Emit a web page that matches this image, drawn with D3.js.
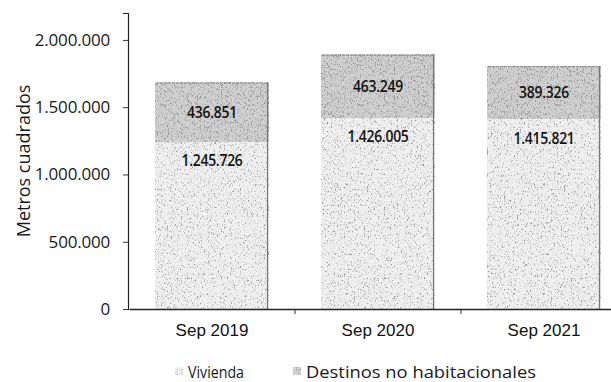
<!DOCTYPE html>
<html>
<head>
<meta charset="utf-8">
<script src="https://cdn.jsdelivr.net/npm/d3@7"></script>
<style>
  html, body { margin: 0; padding: 0; background: #fff; }
  svg { display: block; }
</style>
</head>
<body>
<svg id="chart" width="611" height="382"></svg>
<script>
// Superficie autorizada (m²) por destino, septiembre de cada año
const categories = ["Sep 2019", "Sep 2020", "Sep 2021"];
const vivienda = [1245726, 1426005, 1415821];
const noHabitacional = [436851, 463249, 389326];
const seriesNames = ["Vivienda", "Destinos no habitacionales"];
const yTicks = [0, 500000, 1000000, 1500000, 2000000];

const fmt = d3.formatLocale({ decimal: ",", thousands: ".", grouping: [3], currency: ["", ""] }).format(",d");

const svg = d3.select("#chart");
const defs = svg.append("defs");

// grainy stipple texture for the bars
function grain(id, base, freq, darkness, cut) {
  const f = defs.append("filter").attr("id", id)
    .attr("x", 0).attr("y", 0).attr("width", 1).attr("height", 1);
  f.append("feFlood").attr("flood-color", base).attr("result", "base");
  f.append("feTurbulence").attr("type", "fractalNoise")
    .attr("baseFrequency", freq).attr("numOctaves", 2).attr("seed", 11).attr("result", "noise");
  f.append("feColorMatrix").attr("in", "noise").attr("type", "matrix")
    .attr("values", `0 0 0 0 0.3  0 0 0 0 0.3  0 0 0 0 0.3  ${darkness} 0 0 0 ${-darkness * cut}`)
    .attr("result", "specks");
  f.append("feComposite").attr("in", "specks").attr("in2", "base").attr("operator", "over");
}
grain("g-viv", "#efefef", "1.3 0.45", 4.5, 0.57);
grain("g-noh", "#d0d0d0", "1.3 0.45", 4.5, 0.52);

const fills = ["#e6e6e6", "#c2c2c2"];
const filters = ["url(#g-viv)", "url(#g-noh)"];

const x = d3.scaleBand().domain(categories).range([129, 627]).paddingInner(0.325).paddingOuter(0.1625);
const y = d3.scaleLinear().domain([0, 2200000]).range([309, 13]);

const rows = categories.map((c, i) => ({ cat: c, Vivienda: vivienda[i], "Destinos no habitacionales": noHabitacional[i] }));
const stacked = d3.stack().keys(seriesNames)(rows);

// bars
stacked.forEach((layer, li) => {
  svg.append("g").selectAll("rect").data(layer).join("rect")
    .attr("x", d => x(d.data.cat))
    .attr("y", d => y(d[1]))
    .attr("width", x.bandwidth())
    .attr("height", d => y(d[0]) - y(d[1]))
    .attr("fill", fills[li])
    .attr("filter", filters[li]);
});

// darker right edge and top edge of each bar
svg.append("g").selectAll("line").data(stacked[1]).join("line")
  .attr("x1", d => x(d.data.cat) + x.bandwidth() - 0.5)
  .attr("x2", d => x(d.data.cat) + x.bandwidth() - 0.5)
  .attr("y1", d => y(d[1]))
  .attr("y2", y(0))
  .attr("stroke", "#777").attr("stroke-width", 1.2);
svg.append("g").selectAll("line").data(stacked[1]).join("line")
  .attr("x1", d => x(d.data.cat))
  .attr("x2", d => x(d.data.cat) + x.bandwidth())
  .attr("y1", d => y(d[1]) + 0.5)
  .attr("y2", d => y(d[1]) + 0.5)
  .attr("stroke", "#8a8a8a").attr("stroke-width", 1).attr("stroke-dasharray", "3 1");

// value labels (semibold, horizontally condensed)
function valueLabels(layer, yPos) {
  svg.append("g").selectAll("text").data(layer).join("text")
    .attr("transform", d => `translate(${x(d.data.cat) + x.bandwidth() / 2},${yPos(d)}) scale(0.82,1)`)
    .attr("text-anchor", "middle")
    .attr("font-family", "'Open Sans', sans-serif").attr("font-size", 17).attr("font-weight", 600)
    .attr("letter-spacing", -0.3).attr("fill", "#111")
    .text(d => fmt(d[1] - d[0]));
}
valueLabels(stacked[1], d => (y(d[0]) + y(d[1])) / 2 + 6);
valueLabels(stacked[0], d => y(d[1]) + 25);

// y axis
const yAxis = svg.append("g").attr("transform", "translate(128,0)")
  .call(d3.axisLeft(y).tickValues(yTicks).tickSize(5).tickPadding(13).tickFormat(fmt));
yAxis.select(".domain").attr("stroke", "#222").attr("stroke-width", 1.2);
yAxis.selectAll(".tick line").attr("stroke", "#333");
yAxis.selectAll(".tick text").attr("font-family", "'Open Sans', sans-serif").attr("font-size", 17)
  .attr("fill", "#1a1a1a").attr("letter-spacing", -0.2);

// x axis with ticks between categories
const xAxis = svg.append("g").attr("transform", `translate(0,${y(0)})`)
  .call(d3.axisBottom(x).tickSize(0).tickPadding(15));
xAxis.select(".domain").attr("stroke", "#222").attr("stroke-width", 1.4);
xAxis.selectAll(".tick text").attr("font-family", "'Liberation Sans', Arial, sans-serif")
  .attr("font-size", 17).attr("fill", "#111");
xAxis.selectAll(".sep").data(categories.slice(1)).join("line").attr("class", "sep")
  .attr("x1", d => x(d) - x.step() * x.paddingInner() / 2)
  .attr("x2", d => x(d) - x.step() * x.paddingInner() / 2)
  .attr("y1", 0).attr("y2", 5).attr("stroke", "#333");

// y axis title
svg.append("text")
  .attr("transform", "translate(30,161) rotate(-90)")
  .attr("text-anchor", "middle")
  .attr("font-family", "'Open Sans', sans-serif").attr("font-size", 18).attr("fill", "#1a1a1a")
  .text("Metros cuadrados");

// legend
const legend = svg.append("g").attr("font-family", "'Open Sans', sans-serif").attr("font-size", 17).attr("fill", "#1a1a1a");
const legendX = [175, 293];
const legendW = [56, 230];
seriesNames.forEach((name, i) => {
  legend.append("rect").attr("x", legendX[i]).attr("y", 367).attr("width", 8).attr("height", 8)
    .attr("fill", fills[i]).attr("filter", filters[i]);
  legend.append("text").attr("x", legendX[i] + 13).attr("y", 378)
    .attr("textLength", legendW[i]).attr("lengthAdjust", "spacingAndGlyphs").text(name);
});
</script>
</body>
</html>
